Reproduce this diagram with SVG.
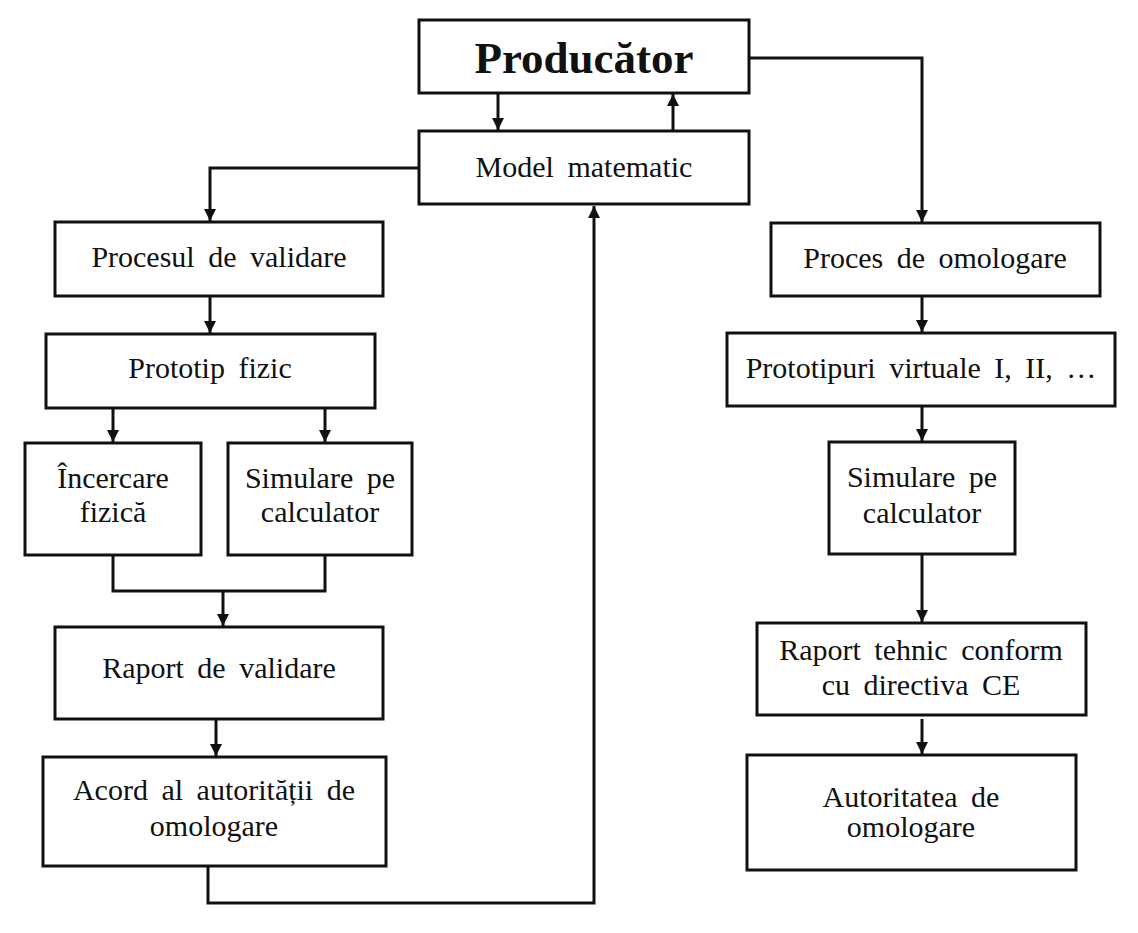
<svg xmlns="http://www.w3.org/2000/svg" width="1138" height="933" viewBox="0 0 1138 933">
<style>
.box{fill:#fff;stroke:#111;stroke-width:3}
.t{font-family:"Liberation Serif",serif;font-size:30px;fill:#111;text-anchor:middle;word-spacing:6px}
.b{font-family:"Liberation Serif",serif;font-size:45px;font-weight:bold;fill:#111;text-anchor:middle}
.c{fill:none;stroke:#111;stroke-width:3}
</style>
<defs>
<marker id="ah" viewBox="0 0 10 10" refX="10" refY="5" markerWidth="4" markerHeight="4" orient="auto" markerUnits="strokeWidth">
<path d="M0,0 L10,5 L0,10 z" fill="#111"/>
</marker>
</defs>
<rect width="1138" height="933" fill="#fff"/>
<g id="connectors">
<path class="c" d="M498,93 V130" marker-end="url(#ah)"/>
<path class="c" d="M673,131 V94" marker-end="url(#ah)"/>
<path class="c" d="M749,58 H922 V222" marker-end="url(#ah)"/>
<path class="c" d="M419,168 H210 V221" marker-end="url(#ah)"/>
<path class="c" d="M210,296 V333" marker-end="url(#ah)"/>
<path class="c" d="M113,408 V442" marker-end="url(#ah)"/>
<path class="c" d="M325,408 V442" marker-end="url(#ah)"/>
<path class="c" d="M113,555 V591 H325 V555"/>
<path class="c" d="M223,591 V626" marker-end="url(#ah)"/>
<path class="c" d="M216,719 V756" marker-end="url(#ah)"/>
<path class="c" d="M208,866 V903 H594 V206" marker-end="url(#ah)"/>
<path class="c" d="M922,296 V332" marker-end="url(#ah)"/>
<path class="c" d="M922,406 V441" marker-end="url(#ah)"/>
<path class="c" d="M922,554 V622" marker-end="url(#ah)"/>
<path class="c" d="M922,719 V754" marker-end="url(#ah)"/>
</g>
<g id="producator">
<rect class="box" x="419" y="20" width="330" height="73"/>
<text class="b" x="584" y="73">Producător</text>
</g>
<g id="model">
<rect class="box" x="419" y="131" width="330" height="73"/>
<text class="t" x="584" y="177">Model matematic</text>
</g>
<g id="procesul-validare">
<rect class="box" x="55" y="222" width="328" height="74"/>
<text class="t" x="219" y="267">Procesul de validare</text>
</g>
<g id="prototip-fizic">
<rect class="box" x="46" y="334" width="329" height="74"/>
<text class="t" x="210" y="378">Prototip fizic</text>
</g>
<g id="incercare">
<rect class="box" x="25" y="443" width="176" height="112"/>
<text class="t" x="113" y="488">Încercare</text>
<text class="t" x="113" y="522">fizică</text>
</g>
<g id="simulare-stanga">
<rect class="box" x="228" y="443" width="184" height="112"/>
<text class="t" x="320" y="488">Simulare pe</text>
<text class="t" x="320" y="522">calculator</text>
</g>
<g id="raport-validare">
<rect class="box" x="55" y="627" width="328" height="92"/>
<text class="t" x="219" y="678">Raport de validare</text>
</g>
<g id="acord">
<rect class="box" x="43" y="757" width="343" height="109"/>
<text class="t" x="214" y="800">Acord al autorității de</text>
<text class="t" x="214" y="836">omologare</text>
</g>
<g id="proces-omologare">
<rect class="box" x="771" y="223" width="329" height="73"/>
<text class="t" x="935" y="268">Proces de omologare</text>
</g>
<g id="prototipuri-virtuale">
<rect class="box" x="727" y="333" width="388" height="73"/>
<text class="t" x="921" y="378">Prototipuri virtuale I, II, …</text>
</g>
<g id="simulare-dreapta">
<rect class="box" x="829" y="442" width="186" height="112"/>
<text class="t" x="922" y="487">Simulare pe</text>
<text class="t" x="922" y="523">calculator</text>
</g>
<g id="raport-tehnic">
<rect class="box" x="757" y="623" width="329" height="92"/>
<text class="t" x="921" y="660">Raport tehnic conform</text>
<text class="t" x="921" y="695">cu directiva CE</text>
</g>
<g id="autoritatea">
<rect class="box" x="747" y="755" width="329" height="115"/>
<text class="t" x="911" y="807">Autoritatea de</text>
<text class="t" x="911" y="837">omologare</text>
</g>
</svg>
